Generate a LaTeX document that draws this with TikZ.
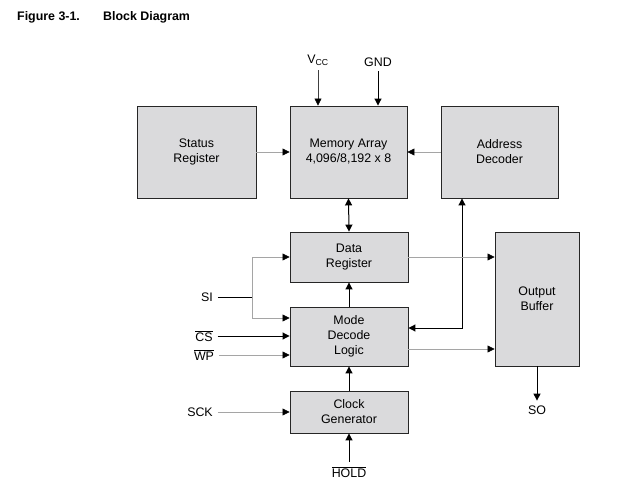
\documentclass[tikz,border=0pt]{standalone}
\usepackage{fontspec}
\setmainfont{Liberation Sans}
\usepackage{tikz}
\usetikzlibrary{arrows.meta,positioning}

\definecolor{boxgray}{RGB}{218,218,220}
\definecolor{wiregray}{RGB}{165,165,165}

\tikzset{
  blk/.style={draw=black!85, line width=0.9pt, fill=boxgray, align=center, inner sep=0pt},
  sig/.style={inner sep=1pt, outer sep=4pt},
  bus/.style={line width=1pt, black},
  wire/.style={line width=0.6pt, wiregray},
}

\begin{document}
\begin{tikzpicture}[x=1pt, y=-1pt, >={Triangle[length=7pt,width=7pt,color=black]},
    font=\fontsize{12.4}{15}\selectfont]
    \useasboundingbox (0,0) rectangle (620,489);

    % Title
    \node[anchor=west, inner sep=0pt] (fig) at (17,17) {\bfseries Figure 3-1.};
    \node[anchor=west, inner sep=0pt] (title) at (103,17) {\bfseries Block Diagram};

    % Blocks
    \node[blk, minimum width=119pt, minimum height=92pt] (status) at (196.5,152) {Status\\Register};
    \node[blk, minimum width=117pt, minimum height=92pt] (mem) at (348.5,152) {Memory Array\\4,096/8,192 x 8};
    \node[blk, minimum width=117pt, minimum height=92pt] (addr) at (499.5,152) {Address\\Decoder};
    \node[blk, minimum width=118pt, minimum height=50pt] (datareg) at (349,257) {Data\\Register};
    \node[blk, minimum width=118pt, minimum height=59pt] (mode) at (349,336.5) {Mode\\Decode\\Logic};
    \node[blk, minimum width=84pt, minimum height=134pt] (outbuf) at (537,299) {Output\\Buffer};
    \node[blk, minimum width=118pt, minimum height=42pt] (clock) at (349,412) {Clock\\Generator};

    % Pins
    \node[sig] (vcc) at (318,60) {V\textsubscript{CC}};
    \node[sig] (gnd) at (378,62) {GND};
    \node[sig] (si) at (207,297) {SI};
    \node[sig] (cs) at (204,336) {$\overline{\mbox{CS}}$};
    \node[sig] (wp) at (204,355) {$\overline{\mbox{WP}}$};
    \node[sig] (sck) at (200,412) {SCK};
    \node[sig] (hold) at (349,472) {$\overline{\mbox{HOLD}}$};
    \node[sig] (so) at (537,410) {SO};
    \coordinate (sibr) at (252,297);
    \coordinate (addrturn) at (462,328);

    % Supply
    \draw[wire, black!75, ->] (vcc.south) -- (vcc.south |- mem.north);
    \draw[bus, ->] (gnd.south) -- (gnd.south |- mem.north);

    % Data paths
    \draw[wire, ->] (status.east) -- (mem.west);
    \draw[wire, ->] (addr.west) -- (mem.east);
    \draw[bus, <->] (datareg.north) -- (mem.south);
    \draw[bus, ->] (mode.north) -- (datareg.south);
    \draw[bus, ->] (clock.north) -- (mode.south);
    \draw[bus, <->] (mode.east |- addrturn) -- (addrturn) -- (addrturn |- addr.south);
    \draw[wire, ->] (datareg.east) -- (datareg.east -| outbuf.west);
    \draw[wire, ->] (mode.east |- 0,349) -- (outbuf.west |- 0,349);
    \draw[bus, ->] (outbuf.south) -- (so.north);

    % Inputs
    \draw[bus] (si.east) -- (sibr);
    \draw[wire, ->] (sibr) |- (datareg.west);
    \draw[wire, ->] (sibr) |- (mode.west |- 0,318);
    \draw[bus, ->] (cs.east) -- (cs.east -| mode.west);
    \draw[wire, ->] (wp.east) -- (wp.east -| mode.west);
    \draw[wire, ->] (sck.east) -- (clock.west);
    \draw[bus, ->] (hold.north) -- (clock.south);
\end{tikzpicture}
\end{document}
